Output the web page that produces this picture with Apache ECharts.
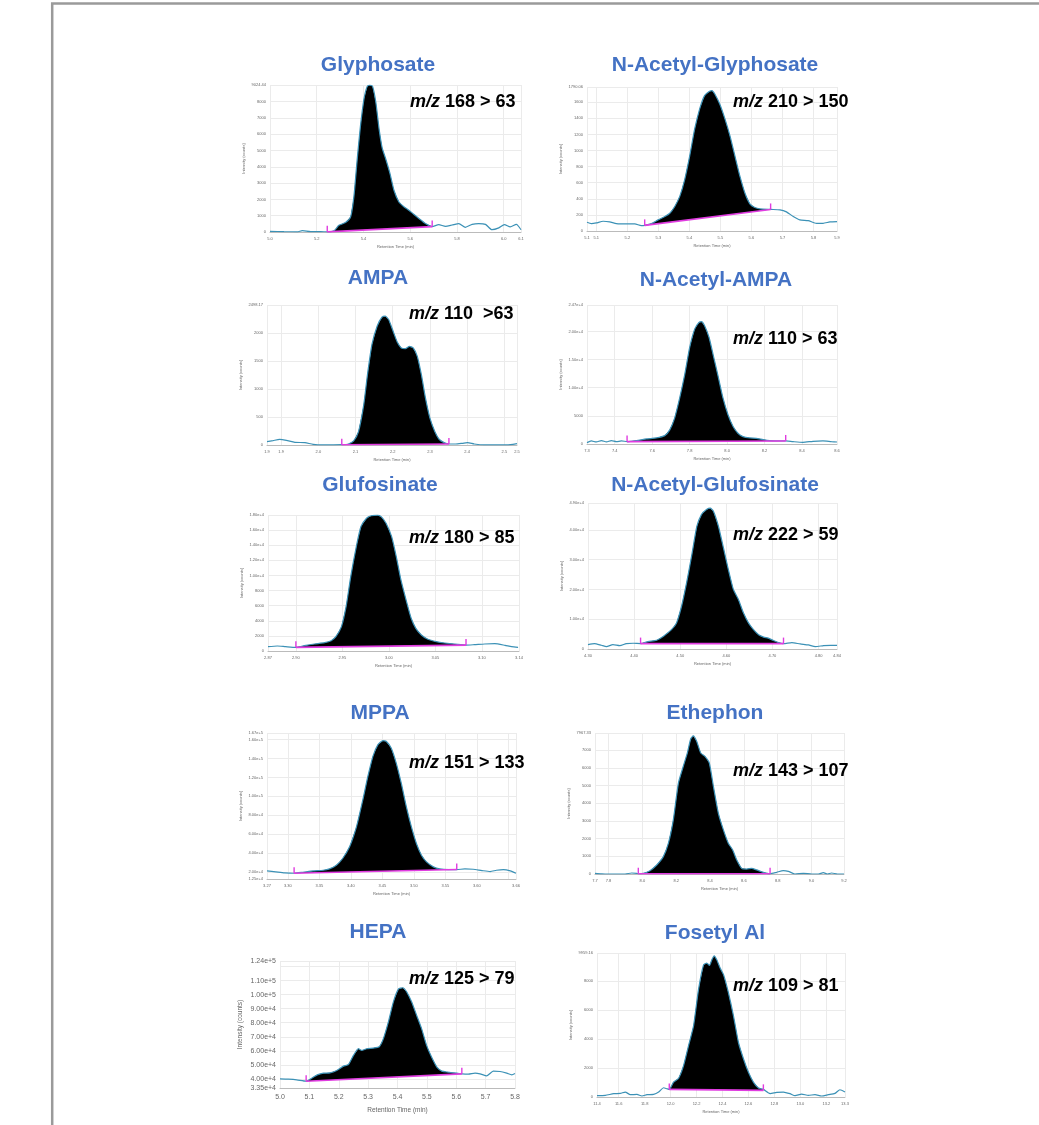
<!DOCTYPE html>
<html>
<head>
<meta charset="utf-8">
<title>Chromatograms</title>
<script src="https://cdn.jsdelivr.net/npm/echarts@6/dist/echarts.min.js"></script>
<style>
  html, body { margin: 0; padding: 0; background: #fff; }
  #chart { width: 1039px; height: 1125px; }
</style>
</head>
<body>
<div id="chart"></div>
<script>
// compound names and MRM transitions
const titles = ['Glyphosate', 'N-Acetyl-Glyphosate', 'AMPA', 'N-Acetyl-AMPA', 'Glufosinate',
  'N-Acetyl-Glufosinate', 'MPPA', 'Ethephon', 'HEPA', 'Fosetyl Al'];
const transitions = ['168 > 63', '210 > 150', '110  >63', '110 > 63', '180 > 85',
  '222 > 59', '151 > 133', '143 > 107', '125 > 79', '109 > 81'];

// axis ranges [min, max, step]
const xRanges = [[5.0, 6.074, 0.2], [5.07, 5.876, 0.1], [1.862, 2.534, 0.1], [7.252, 8.587, 0.2], [2.87, 3.14, 0.05],
  [4.30, 4.84, 0.1], [3.267, 3.662, 0.05], [7.72, 9.192, 0.2], [5.0, 5.8, 0.1], [11.433, 13.344, 0.2]];
const yRanges = [[0, 9024.44, 1000], [0, 1790.06, 200], [0, 2498.17, 500], [0, 24700, 5000], [0, 18000, 2000],
  [0, 49000, 10000], [12500, 167000, 20000], [0, 7967.33, 1000], [33500, 124000, 10000], [0, 9959.16, 2000]];

// traces [time, intensity]
const glyphosateTrace = [[5.000,40],[5.060,20],[5.117,10],[5.138,80],[5.174,20],[5.217,20],[5.245,10],[5.274,80],[5.295,410],[5.323,580],[5.345,930],[5.359,2170],[5.373,4440],[5.387,6500],[5.402,8160],[5.416,8940],[5.427,9020],[5.439,8940],[5.453,7950],[5.467,6300],[5.480,5160],[5.494,4540],[5.513,3610],[5.530,2580],[5.551,1860],[5.573,1550],[5.594,1340],[5.615,1090],[5.637,830],[5.665,520],[5.694,330],[5.722,450],[5.751,350],[5.779,430],[5.808,520],[5.836,290],[5.865,470],[5.893,520],[5.922,470],[5.950,140],[5.979,250],[6.003,450],[6.028,310],[6.054,470],[6.074,140]];
const acGlyphosateTrace = [[5.070,109],[5.084,92],[5.100,100],[5.122,121],[5.143,113],[5.165,92],[5.197,88],[5.224,88],[5.245,67],[5.256,70],[5.278,92],[5.299,138],[5.321,180],[5.337,221],[5.353,305],[5.369,430],[5.385,639],[5.401,931],[5.417,1265],[5.433,1516],[5.449,1683],[5.464,1733],[5.473,1745],[5.482,1703],[5.498,1578],[5.515,1390],[5.531,1182],[5.547,931],[5.563,681],[5.579,472],[5.595,338],[5.611,292],[5.628,275],[5.662,268],[5.692,263],[5.713,238],[5.735,180],[5.756,138],[5.783,129],[5.810,96],[5.831,96],[5.853,113],[5.876,117]];
const ampaTrace = [[1.862,60],[1.878,78],[1.896,101],[1.914,84],[1.937,48],[1.964,42],[1.986,12],[2.014,3],[2.041,3],[2.063,5],[2.081,18],[2.095,72],[2.108,239],[2.122,716],[2.132,1254],[2.144,1791],[2.158,2119],[2.171,2280],[2.180,2298],[2.189,2239],[2.201,2030],[2.212,1839],[2.223,1731],[2.234,1719],[2.245,1761],[2.255,1731],[2.266,1582],[2.277,1254],[2.288,836],[2.300,478],[2.313,239],[2.324,107],[2.338,42],[2.351,18],[2.369,18],[2.387,30],[2.401,42],[2.419,18],[2.446,3],[2.473,3],[2.500,3],[2.523,12],[2.534,24]];
const acAmpaTrace = [[7.252,240],[7.275,540],[7.302,360],[7.329,600],[7.356,360],[7.382,600],[7.409,420],[7.436,540],[7.466,430],[7.516,600],[7.569,900],[7.622,1075],[7.667,1490],[7.694,2510],[7.720,4600],[7.747,8180],[7.774,12360],[7.800,17130],[7.827,20420],[7.850,21610],[7.863,21730],[7.880,21010],[7.904,18920],[7.925,15940],[7.952,12060],[7.978,8180],[8.005,5190],[8.032,3100],[8.058,1910],[8.085,1310],[8.121,1075],[8.156,1015],[8.192,780],[8.227,600],[8.263,540],[8.313,540],[8.352,420],[8.405,300],[8.459,480],[8.512,540],[8.557,420],[8.587,360]];
const glufosinateTrace = [[2.870,574],[2.880,662],[2.889,574],[2.900,486],[2.909,706],[2.920,927],[2.931,1104],[2.938,1369],[2.943,1898],[2.949,3223],[2.954,5872],[2.959,9845],[2.965,13820],[2.970,16470],[2.976,17570],[2.981,17900],[2.988,17980],[2.992,17750],[2.997,16910],[3.003,15140],[3.008,12490],[3.013,9400],[3.019,6530],[3.024,4330],[3.029,3000],[3.035,2120],[3.042,1545],[3.051,1236],[3.060,1060],[3.071,927],[3.083,780],[3.092,839],[3.103,927],[3.114,971],[3.125,750],[3.132,574],[3.139,486]];
const acGlufosinateTrace = [[4.300,1480],[4.314,1820],[4.329,1250],[4.340,800],[4.354,1480],[4.369,1140],[4.383,1820],[4.398,1930],[4.414,1820],[4.430,2500],[4.449,2950],[4.463,4200],[4.481,6480],[4.492,8750],[4.503,14430],[4.514,22380],[4.525,31470],[4.536,41120],[4.546,45100],[4.557,46800],[4.565,47260],[4.572,46240],[4.583,41120],[4.594,33740],[4.604,26920],[4.615,20110],[4.626,16700],[4.637,12150],[4.648,8750],[4.659,6480],[4.670,4770],[4.681,3980],[4.691,3640],[4.702,2840],[4.713,2160],[4.724,1820],[4.742,2160],[4.760,1700],[4.778,1360],[4.793,800],[4.811,1140],[4.826,1250],[4.840,1250]];
const mppaTrace = [[3.267,21060],[3.281,20000],[3.295,18940],[3.310,18580],[3.324,19650],[3.340,21060],[3.356,21770],[3.366,23190],[3.377,27090],[3.387,34180],[3.398,46580],[3.409,67840],[3.419,96200],[3.427,121000],[3.435,142300],[3.443,154700],[3.451,158900],[3.456,158200],[3.464,151100],[3.472,135200],[3.480,113900],[3.488,89110],[3.496,67840],[3.504,50120],[3.512,37720],[3.520,30630],[3.531,25320],[3.541,23190],[3.555,22480],[3.568,22480],[3.581,23190],[3.594,22840],[3.608,21420],[3.621,20350],[3.631,21770],[3.642,22480],[3.653,21060],[3.662,18580]];
const ethephonTrace = [[7.720,40],[7.760,10],[7.799,0],[7.848,0],[7.898,0],[7.937,57],[7.966,38],[7.976,15],[8.006,38],[8.045,190],[8.085,510],[8.124,980],[8.154,1740],[8.183,3060],[8.213,5140],[8.242,6090],[8.266,6840],[8.286,7640],[8.301,7800],[8.321,7500],[8.345,6840],[8.370,6650],[8.396,6270],[8.420,4950],[8.449,3440],[8.479,2490],[8.508,1740],[8.534,1360],[8.558,790],[8.587,320],[8.617,280],[8.646,320],[8.676,230],[8.715,95],[8.755,10],[8.794,95],[8.833,190],[8.863,150],[8.902,0],[8.952,40],[9.001,0],[9.040,0],[9.070,75],[9.094,0],[9.119,57],[9.153,0],[9.192,0]];
const hepaTrace = [[5.000,40000],[5.028,39760],[5.057,39280],[5.089,38330],[5.108,40480],[5.127,42870],[5.148,44060],[5.170,44300],[5.193,45970],[5.216,49070],[5.233,50270],[5.250,56720],[5.267,61490],[5.278,60300],[5.295,61490],[5.318,61970],[5.338,62930],[5.352,68660],[5.369,80600],[5.386,94920],[5.403,104000],[5.418,104950],[5.431,102090],[5.448,94920],[5.465,85370],[5.482,75820],[5.499,63880],[5.516,55520],[5.534,48360],[5.551,45490],[5.573,44780],[5.590,44300],[5.619,43580],[5.641,43340],[5.664,44060],[5.681,43580],[5.704,42150],[5.726,45490],[5.749,45250],[5.772,44060],[5.789,42870],[5.800,43820]];
const fosetylTrace = [[11.433,90],[11.497,115],[11.562,230],[11.613,250],[11.651,340],[11.690,160],[11.741,180],[11.779,70],[11.818,160],[11.869,180],[11.908,340],[11.946,640],[11.972,570],[11.990,525],[12.023,1030],[12.062,1300],[12.100,2170],[12.138,3540],[12.177,4920],[12.215,7430],[12.254,9140],[12.279,9260],[12.300,9100],[12.318,9490],[12.336,9760],[12.356,9490],[12.382,8920],[12.408,8460],[12.446,7200],[12.485,5600],[12.523,3770],[12.562,2630],[12.600,1710],[12.638,1030],[12.677,620],[12.715,525],[12.767,230],[12.818,320],[12.869,340],[12.920,230],[12.959,90],[13.010,200],[13.062,115],[13.113,160],[13.164,70],[13.215,160],[13.267,250],[13.305,500],[13.344,340]];

// integration baselines [startTime, startValue, endTime, endValue]
const glyphosateBase = [5.245, 10, 5.694, 330];
const acGlyphosateBase = [5.256, 70, 5.662, 268];
const ampaBase = [2.063, 5, 2.351, 18];
const acAmpaBase = [7.466, 430, 8.313, 540];
const glufosinateBase = [2.900, 486, 3.083, 780];
const acGlufosinateBase = [4.414, 1820, 4.724, 1820];
const mppaBase = [3.310, 18580, 3.568, 22480];
const ethephonBase = [7.976, 15, 8.755, 10];
const hepaBase = [5.089, 38330, 5.619, 43580];
const fosetylBase = [11.990, 525, 12.715, 460];

const traces = [glyphosateTrace, acGlyphosateTrace, ampaTrace, acAmpaTrace, glufosinateTrace,
  acGlufosinateTrace, mppaTrace, ethephonTrace, hepaTrace, fosetylTrace];
const bases = [glyphosateBase, acGlyphosateBase, ampaBase, acAmpaBase, glufosinateBase,
  acGlufosinateBase, mppaBase, ethephonBase, hepaBase, fosetylBase];

// layout: grid [left, top, width, height], title centre, transition label anchor
const layout = [
  { grid: [270, 85, 251, 147], title: [378, 65], ion: [410, 102], dec: 1 },
  { grid: [587, 87, 250, 144], title: [715, 65], ion: [733, 102], dec: 1 },
  { grid: [267, 305, 250, 140], title: [378, 278], ion: [409, 314], dec: 1 },
  { grid: [587, 305, 250, 139], title: [716, 280], ion: [733, 339], dec: 1 },
  { grid: [268, 515, 251, 136], title: [380, 485], ion: [409, 538], dec: 2 },
  { grid: [588, 503, 249, 146], title: [715, 485], ion: [733, 535], dec: 2 },
  { grid: [267, 733, 249, 146], title: [380, 713], ion: [409, 763], dec: 2 },
  { grid: [595, 733, 249, 141], title: [715, 713], ion: [733, 771], dec: 1 },
  { grid: [280, 961, 235, 127], title: [378, 932], ion: [409, 979], dec: 1, big: true },
  { grid: [597, 953, 248, 144], title: [715, 933], ion: [733, 986], dec: 1 }
];

const FONT = '"Liberation Sans", Arial, Helvetica, sans-serif';
const TRACE = '#3b91b6';
const PINK = '#e03ce0';
const GRIDLINE = '#ebebeb';

function yLabel(max) {
  return function (v) {
    if (v >= 10000) return v.toExponential(2);
    if (Math.abs(v - max) < 1e-6) return v.toFixed(2);
    return String(Math.round(v));
  };
}

function peakFill(points, base) {
  return function (params, api) {
    if (params.dataIndex !== 0) return null;
    const pts = points.map(function (p) { return api.coord(p); });
    pts.push(api.coord([base[2], base[3]]));
    pts.push(api.coord([base[0], base[1]]));
    return { type: 'polygon', shape: { points: pts }, style: { fill: '#000' } };
  };
}

const grids = [], xAxes = [], yAxes = [], series = [], graphics = [];

graphics.push({
  type: 'rect', silent: true,
  shape: { x: 52.2, y: 3.5, width: 1200, height: 1200 },
  style: { fill: 'none', stroke: '#9a9a9a', lineWidth: 2.5 }
});

layout.forEach(function (l, i) {
  const fs = l.big ? 7 : 4;
  const nfs = l.big ? 6.5 : 4;
  const xr = xRanges[i], yr = yRanges[i];
  grids.push({ left: l.grid[0], top: l.grid[1], width: l.grid[2], height: l.grid[3] });
  xAxes.push({
    gridIndex: i, type: 'value', min: xr[0], max: xr[1],
    minInterval: xr[2], maxInterval: xr[2], splitNumber: 8,
    axisLine: { show: true, onZero: false, lineStyle: { color: '#bbbbbb', width: 1 } },
    axisTick: { show: false },
    splitLine: { show: true, lineStyle: { color: GRIDLINE, width: 1 } },
    axisLabel: {
      fontSize: fs, color: '#666', margin: l.big ? 6 : 5, fontFamily: FONT,
      showMinLabel: true, showMaxLabel: true,
      formatter: function (v) { return v.toFixed(l.dec); }
    },
    name: 'Retention Time (min)', nameLocation: 'middle', nameGap: l.big ? 19 : 13,
    nameTextStyle: { fontSize: nfs, color: '#666', fontFamily: FONT }
  });
  yAxes.push({
    gridIndex: i, type: 'value', min: yr[0], max: yr[1],
    minInterval: yr[2], maxInterval: yr[2], splitNumber: 8,
    axisLine: { show: false },
    axisTick: { show: false },
    splitLine: { show: true, lineStyle: { color: GRIDLINE, width: 1 } },
    axisLabel: {
      fontSize: fs, color: '#666', margin: 4, fontFamily: FONT,
      showMinLabel: true, showMaxLabel: true, formatter: yLabel(yr[1])
    },
    name: 'Intensity (counts)', nameLocation: 'middle', nameRotate: 90,
    nameGap: l.big ? 36 : 24,
    nameTextStyle: { fontSize: nfs, color: '#666', fontFamily: FONT }
  });

  const base = bases[i];
  const peak = traces[i].filter(function (p) { return p[0] >= base[0] - 1e-9 && p[0] <= base[2] + 1e-9; });
  series.push({
    type: 'custom', xAxisIndex: i, yAxisIndex: i, z: 2, silent: true,
    encode: { x: 0, y: 1 }, data: peak, renderItem: peakFill(peak, base)
  });
  series.push({
    type: 'line', xAxisIndex: i, yAxisIndex: i, z: 3, silent: true,
    data: traces[i], smooth: 0.2, showSymbol: false,
    lineStyle: { color: TRACE, width: 1.2 }
  });
  series.push({
    type: 'line', xAxisIndex: i, yAxisIndex: i, z: 4, silent: true,
    data: [[base[0], base[1]], [base[2], base[3]]],
    showSymbol: true, symbol: 'rect', symbolSize: [1.4, 6], symbolOffset: [0, -3],
    itemStyle: { color: PINK },
    lineStyle: { color: PINK, width: 1.6 }
  });

  graphics.push({
    type: 'text', silent: true, x: l.title[0], y: l.title[1],
    style: {
      text: titles[i], fill: '#4472c4', fontSize: 21, fontWeight: 'bold', fontFamily: FONT,
      align: 'center', verticalAlign: 'middle', stroke: 'none', lineWidth: 0
    }
  });
  graphics.push({
    type: 'text', silent: true, x: l.ion[0], y: l.ion[1], z: 100,
    style: {
      text: '{i|m/z} {n|' + transitions[i] + '}',
      fill: '#000', fontSize: 18, fontWeight: 'bold', fontFamily: FONT,
      align: 'left', verticalAlign: 'middle', stroke: 'none', lineWidth: 0,
      rich: {
        i: { fill: '#000', stroke: 'none', lineWidth: 0, fontSize: 18, fontWeight: 'bold', fontStyle: 'italic', fontFamily: FONT },
        n: { fill: '#000', stroke: 'none', lineWidth: 0, fontSize: 18, fontWeight: 'bold', fontFamily: FONT }
      }
    }
  });
});

const chart = echarts.init(document.getElementById('chart'));
chart.setOption({
  animation: false,
  backgroundColor: '#fff',
  grid: grids,
  xAxis: xAxes,
  yAxis: yAxes,
  series: series,
  graphic: graphics
});
</script>
</body>
</html>
